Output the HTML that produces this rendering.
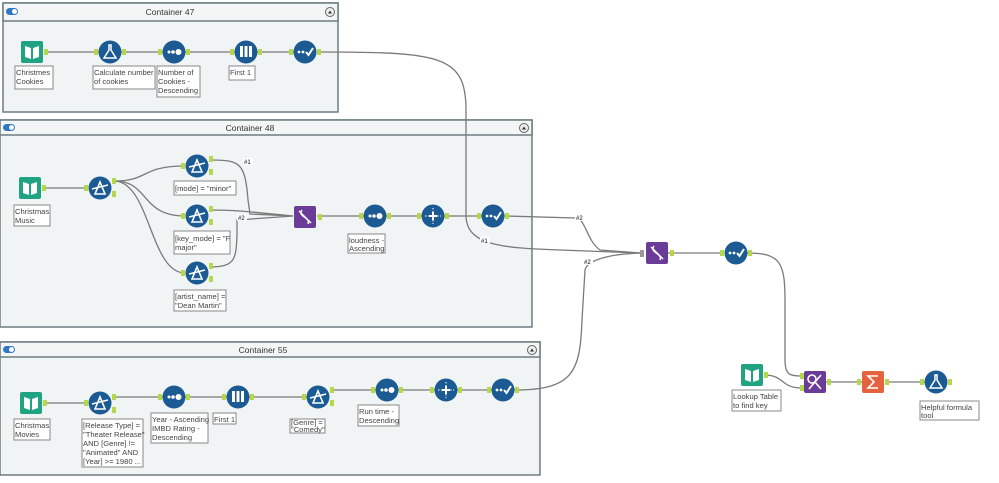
<!DOCTYPE html>
<html><head><meta charset="utf-8"><style>
body{margin:0;background:#fff;width:999px;height:483px;overflow:hidden;font-family:"Liberation Sans",sans-serif}
svg{display:block}
.lbl{font-size:7.6px;fill:#444}
.t{font-size:8.5px;fill:#333}
</style></head><body>
<svg width="999" height="483" viewBox="0 0 999 483">
<defs>
<g id="book"><rect x="-11" y="-11" width="22" height="22" rx="2" fill="#1fa383"/><path d="M-7,-6 L-1,-4 L-1,7 L-7,5Z M1,-4 L7,-6 L7,5 L1,7Z" fill="#fff"/></g>
<g id="filt"><circle r="11.5" fill="#1b5a93"/><path d="M-5,6 L0,-6 L5,6Z M-8,1 L8,-3" stroke="#fff" stroke-width="1.6" fill="none"/></g>
<g id="sort"><circle r="11.5" fill="#1b5a93"/><circle cx="-5" r="1.5" fill="#fff"/><circle cx="-1" r="1.8" fill="#fff"/><circle cx="4.5" r="3" fill="#fff"/></g>
<g id="samp"><circle r="11.5" fill="#1b5a93"/><rect x="-6" y="-6" width="3" height="11" fill="#fff"/><rect x="-1.5" y="-6" width="3" height="11" fill="#fff"/><rect x="3" y="-6" width="3" height="11" fill="#fff"/></g>
<g id="sel"><circle r="11.5" fill="#1b5a93"/><circle cx="-6" r="1.4" fill="#fff"/><circle cx="-2" r="1.4" fill="#fff"/><path d="M1,0 L3.5,3 L8,-4" stroke="#fff" stroke-width="2" fill="none"/></g>
<g id="form"><circle r="11.5" fill="#1b5a93"/><path d="M-1,-7 L1,-7 L1,-2 L6,6 L-6,6 L-1,-2Z" fill="none" stroke="#fff" stroke-width="1.5"/></g>
<g id="xcol"><circle r="11.5" fill="#1b5a93"/><path d="M0,-8V8M-8,0H8" stroke="#fff" stroke-width="1" stroke-dasharray="1.5,1.5"/><path d="M-4,0H4M0,-4V4" stroke="#fff" stroke-width="2"/></g>
<g id="union"><rect x="-11" y="-11" width="22" height="22" rx="2" fill="#6b3c97"/><path d="M-6,-6 C0,0 0,0 6,6 M-3,-7 C-8,0 6,0 3,7" stroke="#fff" stroke-width="1.5" fill="none"/></g>
<g id="anc"><rect x="-2" y="-3" width="4" height="6" fill="#b5d84a"/></g>
</defs>

<g stroke="#6d7d80" stroke-width="1.5">
<rect x="3" y="3" width="335" height="109" fill="#f1f4f5"/>
<rect x="3" y="3" width="335" height="18" fill="#f4f6f6"/>
<rect x="0" y="120" width="532" height="207" fill="#f1f4f5"/>
<rect x="0" y="120" width="532" height="15" fill="#f4f6f6"/>
<rect x="0" y="342" width="540" height="133" fill="#f1f4f5"/>
<rect x="0" y="342" width="540" height="15" fill="#f4f6f6"/>
</g>
<g>
<rect x="6" y="8" width="12" height="7" rx="3.5" fill="#2f78c8"/><circle cx="14.5" cy="11.5" r="2.5" fill="#fff"/>
<rect x="3" y="124" width="12" height="7" rx="3.5" fill="#2f78c8"/><circle cx="11.5" cy="127.5" r="2.5" fill="#fff"/>
<rect x="3" y="346" width="12" height="7" rx="3.5" fill="#2f78c8"/><circle cx="11.5" cy="349.5" r="2.5" fill="#fff"/>
<circle cx="330" cy="12" r="4.5" fill="#eee" stroke="#666"/><path d="M328,13.5 L330,10.5 L332,13.5Z" fill="#333"/>
<circle cx="524" cy="128" r="4.5" fill="#eee" stroke="#666"/><path d="M522,129.5 L524,126.5 L526,129.5Z" fill="#333"/>
<circle cx="532" cy="350" r="4.5" fill="#eee" stroke="#666"/><path d="M530,351.5 L532,348.5 L534,351.5Z" fill="#333"/>
</g>
<text class="t" x="170" y="15" text-anchor="middle">Container 47</text>
<text class="t" x="250" y="131" text-anchor="middle">Container 48</text>
<text class="t" x="263" y="353" text-anchor="middle">Container 55</text>

<g stroke="#7a7a7a" stroke-width="1.3" fill="none">
<path d="M45,52H300"/>
<path d="M318,52 C440,52 466,55 466,110 L466,215 C466,245 500,248 560,250 L640,253"/>
<path d="M43,188H88"/>
<path d="M114,181 C150,181 140,166 185,166"/>
<path d="M114,181 C150,181 140,216 185,216"/>
<path d="M114,181 C150,181 150,273 185,273"/>
<path d="M209,160 C240,160 245,162 248,200 L250,214 L293,216"/>
<path d="M209,210 C240,210 250,212 293,216"/>
<path d="M209,267 C235,267 236,260 237,235 L237,220 L293,216"/>
<path d="M317,216H506"/>
<path d="M506,216 L575,218 C586,218 586,240 600,250 L640,253"/>
<path d="M43,403H88"/>
<path d="M113,397H326"/>
<path d="M330,390H515 C575,390 580,370 582,320 L585,270 C587,260 610,254 640,253"/>
<path d="M660,253H724"/>
<path d="M747,253 C780,253 785,262 785,300 L785,360 C785,375 790,376 802,376"/>
<path d="M764,375 C785,375 780,388 802,388"/>
<path d="M825,382H862 M885,382H925"/>
</g>
<g font-size="6" fill="#000">
<rect x="243" y="158" width="10" height="7" fill="#fff"/><text x="244" y="164">#1</text>
<rect x="237" y="214" width="10" height="7" fill="#fff"/><text x="238" y="220">#2</text>
<rect x="480" y="237" width="10" height="7" fill="#fff"/><text x="481" y="243">#1</text>
<rect x="575" y="214" width="10" height="7" fill="#fff"/><text x="576" y="220">#2</text>
<rect x="583" y="258" width="10" height="7" fill="#fff"/><text x="584" y="264">#2</text>
</g>

<use href="#book" x="32" y="52"/><use href="#anc" x="46" y="52"/>
<use href="#form" x="110" y="52"/><use href="#anc" x="96" y="52"/><use href="#anc" x="124" y="52"/>
<use href="#sort" x="174" y="52"/><use href="#anc" x="160" y="52"/><use href="#anc" x="188" y="52"/>
<use href="#samp" x="246" y="52"/><use href="#anc" x="232" y="52"/><use href="#anc" x="260" y="52"/>
<use href="#sel" x="305" y="52"/><use href="#anc" x="291" y="52"/><use href="#anc" x="319" y="52"/>

<use href="#book" x="30" y="188"/><use href="#anc" x="44" y="188"/>
<use href="#filt" x="100" y="188"/><use href="#anc" x="86" y="188"/><use href="#anc" x="114" y="181"/><use href="#anc" x="114" y="194"/>
<use href="#filt" x="197" y="166"/><use href="#anc" x="183" y="166"/><use href="#anc" x="211" y="159"/><use href="#anc" x="211" y="172"/>
<use href="#filt" x="197" y="216"/><use href="#anc" x="183" y="216"/><use href="#anc" x="211" y="209"/><use href="#anc" x="211" y="222"/>
<use href="#filt" x="197" y="273"/><use href="#anc" x="183" y="273"/><use href="#anc" x="211" y="266"/><use href="#anc" x="211" y="279"/>
<use href="#union" x="305" y="217"/><use href="#anc" x="320" y="217"/>
<use href="#sort" x="375" y="216"/><use href="#anc" x="361" y="216"/><use href="#anc" x="389" y="216"/>
<use href="#xcol" x="433" y="216"/><use href="#anc" x="419" y="216"/><use href="#anc" x="447" y="216"/>
<use href="#sel" x="493" y="216"/><use href="#anc" x="479" y="216"/><use href="#anc" x="507" y="216"/>

<use href="#book" x="31" y="403"/><use href="#anc" x="45" y="403"/>
<use href="#filt" x="100" y="403"/><use href="#anc" x="86" y="403"/><use href="#anc" x="114" y="397"/><use href="#anc" x="114" y="410"/>
<use href="#sort" x="174" y="397"/><use href="#anc" x="160" y="397"/><use href="#anc" x="188" y="397"/>
<use href="#samp" x="238" y="397"/><use href="#anc" x="224" y="397"/><use href="#anc" x="252" y="397"/>
<use href="#filt" x="318" y="397"/><use href="#anc" x="304" y="397"/><use href="#anc" x="332" y="390"/><use href="#anc" x="332" y="403"/>
<use href="#sort" x="387" y="390"/><use href="#anc" x="373" y="390"/><use href="#anc" x="401" y="390"/>
<use href="#xcol" x="446" y="390"/><use href="#anc" x="432" y="390"/><use href="#anc" x="460" y="390"/>
<use href="#sel" x="503" y="390"/><use href="#anc" x="489" y="390"/><use href="#anc" x="517" y="390"/>

<use href="#union" x="657" y="253"/><use href="#anc" x="672" y="253"/><rect x="640" y="250" width="4" height="7" fill="#999"/>
<use href="#sel" x="736" y="253"/><use href="#anc" x="722" y="253"/><use href="#anc" x="750" y="253"/>
<use href="#book" x="752" y="375"/><use href="#anc" x="766" y="375"/>
<g transform="translate(815,382)"><rect x="-11" y="-11" width="22" height="22" rx="2" fill="#6b3c97"/><circle cx="-3" cy="-3" r="4" stroke="#fff" stroke-width="1.6" fill="none"/><path d="M0,0 L6,7 M6,-7 L-6,7" stroke="#fff" stroke-width="1.6"/></g>
<use href="#anc" x="802" y="376"/><use href="#anc" x="802" y="388"/><use href="#anc" x="829" y="382"/>
<g transform="translate(873,382)"><rect x="-11" y="-11" width="22" height="22" rx="2" fill="#e4633e"/><path d="M5,-6 H-5 L1,0 L-5,6 H5" stroke="#fff" stroke-width="1.6" fill="none"/></g>
<use href="#anc" x="859" y="382"/><use href="#anc" x="887" y="382"/>
<use href="#form" x="936" y="382"/><use href="#anc" x="922" y="382"/><use href="#anc" x="950" y="382"/>

<g fill="#fff" stroke="#888" stroke-width="1">
<rect x="15" y="66" width="38" height="23"/><rect x="93" y="66" width="62" height="23"/><rect x="157" y="66" width="43" height="31"/><rect x="229" y="66" width="26" height="14"/>
<rect x="14" y="205" width="36" height="21"/><rect x="174" y="181" width="62" height="14"/><rect x="174" y="231" width="56" height="23"/><rect x="174" y="290" width="52" height="21"/><rect x="348" y="234" width="37" height="19"/>
<rect x="14" y="419" width="36" height="21"/><rect x="82" y="419" width="61" height="48"/><rect x="151" y="413" width="57" height="30"/><rect x="213" y="413" width="23" height="11"/><rect x="290" y="419" width="35" height="14"/><rect x="358" y="405" width="41" height="21"/>
<rect x="732" y="390" width="49" height="21"/><rect x="920" y="401" width="59" height="19"/>
</g>
<g class="lbl">
<text x="16" y="75">Christmes</text><text x="16" y="84">Cookies</text>
<text x="94" y="75">Calculate number</text><text x="94" y="84">of cookies</text>
<text x="158" y="75">Number of</text><text x="158" y="84">Cookies -</text><text x="158" y="93">Descending</text>
<text x="230" y="75">First 1</text>
<text x="15" y="214">Christmas</text><text x="15" y="223">Music</text>
<text x="175" y="191">[mode] = "minor"</text>
<text x="175" y="241">[key_mode] = "F</text><text x="175" y="250">major"</text>
<text x="175" y="299">[artist_name] =</text><text x="175" y="308">"Dean Martin"</text>
<text x="349" y="243">loudness -</text><text x="349" y="251">Ascending</text>
<text x="15" y="428">Christmas</text><text x="15" y="437">Movies</text>
<text x="83" y="428">[Release Type] =</text><text x="83" y="437">"Theater Release"</text><text x="83" y="446">AND [Genre] !=</text><text x="83" y="455">"Animated" AND</text><text x="83" y="464">[Year] &gt;= 1980 ...</text>
<text x="152" y="422">Year - Ascending</text><text x="152" y="431">IMBD Rating -</text><text x="152" y="440">Descending</text>
<text x="214" y="422">First 1</text>
<text x="291" y="425">[Genre] =</text><text x="291" y="432">"Comedy"</text>
<text x="359" y="414">Run time -</text><text x="359" y="423">Descending</text>
<text x="733" y="399">Lookup Table</text><text x="733" y="408">to find key</text>
<text x="921" y="410">Helpful formula</text><text x="921" y="418">tool</text>
</g>
</svg>
</body></html>
